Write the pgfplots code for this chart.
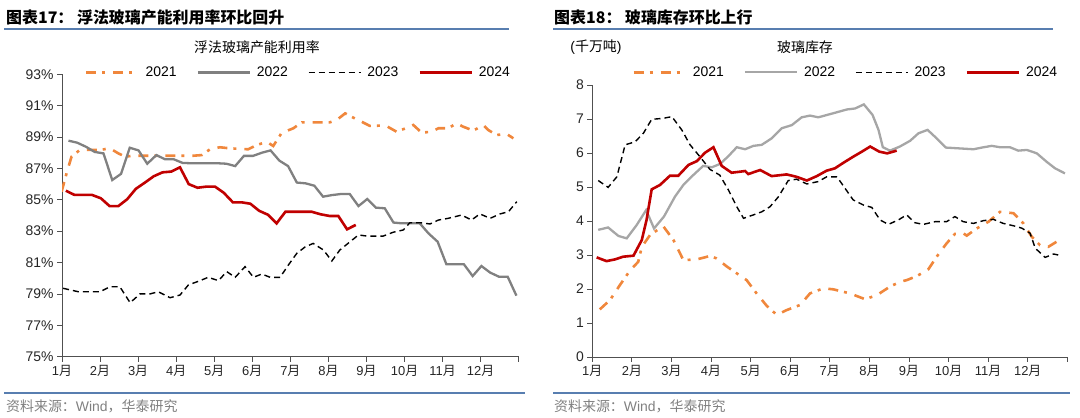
\documentclass[border=0pt]{standalone}
\usepackage{fontspec}
\setmainfont{Liberation Sans}
\newfontfamily\cjk{Noto Sans CJK SC}
\usepackage{pgfplots}
\pgfplotsset{compat=1.18}
\definecolor{orng}{RGB}{240,135,60}
\definecolor{grayL}{RGB}{128,128,128}
\definecolor{grayR}{RGB}{166,166,166}
\definecolor{redd}{RGB}{192,0,0}
\definecolor{hdrblue}{RGB}{88,126,176}
\definecolor{axgray}{RGB}{80,80,80}
\definecolor{srcgray}{RGB}{128,128,128}
\newcommand{\M}[1]{#1{\cjk 月}}
\pgfplotsset{
  myax/.style={
    scale only axis, anchor=south west,
    axis x line*=bottom, axis y line*=left,
    axis line style={-,draw=axgray,line width=0.9bp},
    tick align=outside, major tick length=5bp,
    tick style={draw=axgray,line width=0.8bp},
    xmin=0, xmax=12, xtick={0,1,...,12},
    xticklabels={{\M{1}},{\M{2}},{\M{3}},{\M{4}},{\M{5}},{\M{6}},{\M{7}},{\M{8}},{\M{9}},{\M{10}},{\M{11}},{\M{12}},{}},
    xticklabel style={font=\fontsize{13}{13}\selectfont, text=black!85},
    yticklabel style={font=\fontsize{14}{14}\selectfont, text=black!85},
    legend columns=4,
    legend style={draw=none, fill=none, font=\fontsize{14}{14}\selectfont, inner sep=0pt,
      /tikz/every odd column/.append style={column sep=4bp},
      /tikz/every even column/.append style={column sep=18bp}},
    legend image code/.code={\draw[##1] (0bp,0bp) -- (52bp,0bp);},
    legend entries={2021,2022,2023,2024},
  },
  s21/.style={color=orng, line width=2.6bp, dash pattern=on 10bp off 6bp on 3bp off 8bp},
  s23/.style={color=black, line width=1.4bp, dash pattern=on 6bp off 4bp},
  s24/.style={color=redd, line width=2.6bp},
}
\begin{document}
\begin{tikzpicture}
\path[use as bounding box] (0,0) rectangle (1080bp,418bp);
% headers
\node[anchor=west, inner sep=0pt] at (6bp,401bp) {\fontsize{16}{16}\selectfont\cjk\bfseries 图表17：\ 浮法玻璃产能利用率环比回升};
\node[anchor=west, inner sep=0pt] at (554bp,401bp) {\fontsize{16}{16}\selectfont\cjk\bfseries 图表18：\ 玻璃库存环比上行};
\draw[hdrblue, line width=2bp] (4bp,388.5bp) -- (509bp,388.5bp);
\draw[hdrblue, line width=2bp] (553bp,388.5bp) -- (1053bp,388.5bp);
\node[inner sep=0pt] at (257bp,371bp) {\fontsize{14}{14}\selectfont\cjk 浮法玻璃产能利用率};
\node[inner sep=0pt] at (596bp,371bp) {\fontsize{14}{14}\selectfont (\cjk 千万吨\normalfont)};
\node[inner sep=0pt] at (805bp,371bp) {\fontsize{14}{14}\selectfont\cjk 玻璃库存};
\draw[hdrblue, line width=1.2bp] (4bp,25bp) -- (525bp,25bp);
\draw[hdrblue, line width=1.2bp] (553bp,25bp) -- (1070bp,25bp);
\node[anchor=west, inner sep=0pt, text=srcgray] at (6bp,12bp) {\fontsize{14}{14}\selectfont{\cjk 资料来源：}Wind{\cjk ，华泰研究}};
\node[anchor=west, inner sep=0pt, text=srcgray] at (554bp,12bp) {\fontsize{14}{14}\selectfont{\cjk 资料来源：}Wind{\cjk ，华泰研究}};

% LEFT
\begin{axis}[myax, at={(62bp,61.3bp)}, width=456.7bp, height=282.4bp,
  ymin=75, ymax=93, ytick={75,77,...,93},
  yticklabels={75\%,77\%,79\%,81\%,83\%,85\%,87\%,89\%,91\%,93\%},
  legend style={at={(0.05,1.006)}, anchor=west}]
\addplot[s21] coordinates {
(-0.01,85.52)(0.12,86.69)(0.25,87.75)(0.47,88.18)(0.69,88.18)(1.00,88.18)(1.26,88.28)(1.48,87.96)(1.66,87.75)(1.87,87.81)(2.75,87.81)(3.45,87.81)(3.67,87.85)(3.89,88.22)(4.15,88.35)(4.41,88.28)(4.89,88.22)(5.12,88.49)(5.38,88.70)(5.55,88.43)(5.77,89.26)(6.08,89.56)(6.30,89.94)(6.52,89.94)(6.78,89.94)(7.04,89.94)(7.22,90.09)(7.44,90.51)(7.74,90.13)(7.87,89.98)(8.09,89.71)(8.40,89.73)(8.52,89.71)(8.79,89.34)(9.14,89.66)(9.23,89.77)(9.45,89.28)(9.71,89.34)(9.89,89.56)(10.15,89.56)(10.37,89.88)(10.54,89.66)(10.81,89.41)(11.07,89.77)(11.20,89.45)(11.42,89.13)(11.68,89.20)(11.86,88.92)};
\addplot[color=grayL, line width=2.3bp] coordinates {
(0.17,88.77)(0.40,88.64)(0.63,88.38)(0.86,88.05)(1.09,87.96)(1.32,86.26)(1.55,86.65)(1.78,88.32)(2.01,88.15)(2.24,87.30)(2.48,87.85)(2.71,87.58)(2.94,87.58)(3.17,87.35)(3.40,87.33)(3.63,87.33)(3.86,87.33)(4.09,87.33)(4.32,87.30)(4.55,87.15)(4.78,87.80)(5.02,87.80)(5.25,88.00)(5.48,88.15)(5.71,87.50)(5.94,87.15)(6.17,86.10)(6.40,86.05)(6.63,85.90)(6.86,85.20)(7.09,85.30)(7.33,85.37)(7.56,85.37)(7.79,84.60)(8.02,85.05)(8.25,84.50)(8.48,84.46)(8.71,83.55)(8.94,83.50)(9.17,83.50)(9.40,83.50)(9.63,82.86)(9.87,82.33)(10.10,80.89)(10.33,80.89)(10.56,80.89)(10.79,80.14)(11.02,80.78)(11.25,80.36)(11.48,80.10)(11.71,80.10)(11.94,78.89)};
\addplot[s23] coordinates {
(0.03,79.36)(0.43,79.14)(1.00,79.14)(1.26,79.46)(1.52,79.46)(1.79,78.44)(2.05,79.00)(2.31,79.00)(2.53,79.14)(2.84,78.76)(3.10,78.93)(3.32,79.57)(3.63,79.85)(3.84,80.06)(4.11,79.85)(4.33,80.42)(4.55,80.06)(4.81,80.74)(5.03,80.06)(5.25,80.27)(5.47,80.06)(5.73,80.06)(5.95,80.85)(6.17,81.59)(6.39,82.00)(6.60,82.22)(6.87,81.80)(7.09,81.10)(7.30,81.80)(7.57,82.33)(7.79,82.76)(8.01,82.69)(8.44,82.69)(8.70,82.93)(8.97,83.08)(9.14,83.54)(9.41,83.54)(9.67,83.46)(9.89,83.71)(10.15,83.82)(10.50,84.03)(10.76,83.71)(10.98,84.10)(11.25,83.82)(11.51,84.10)(11.73,84.24)(11.95,84.88)};
\addplot[s24] coordinates {
(0.10,85.58)(0.33,85.31)(0.56,85.31)(0.79,85.31)(1.02,85.10)(1.25,84.60)(1.48,84.60)(1.71,85.03)(1.94,85.70)(2.18,86.10)(2.41,86.50)(2.64,86.75)(2.87,86.80)(3.10,87.07)(3.33,86.00)(3.56,85.77)(3.79,85.84)(4.02,85.84)(4.25,85.45)(4.49,84.84)(4.72,84.84)(4.95,84.75)(5.18,84.30)(5.41,84.05)(5.64,83.50)(5.87,84.24)(6.10,84.24)(6.33,84.24)(6.56,84.24)(6.79,84.08)(7.03,83.97)(7.26,83.97)(7.49,83.12)(7.72,83.40)};
\end{axis}

% RIGHT
\begin{axis}[myax, at={(592.3bp,61bp)}, width=475bp, height=272bp,
  ymin=0, ymax=8, ytick={0,1,...,8},
  yticklabels={0,1,2,3,4,5,6,7,8},
  legend style={at={(0.0836,1.047)}, anchor=west}]
\addplot[s21] coordinates {
(0.19,1.40)(0.45,1.68)(0.70,2.12)(0.95,2.54)(1.16,2.80)(1.25,3.24)(1.46,3.59)(1.79,3.85)(2.05,3.44)(2.30,2.85)(2.64,2.87)(2.97,2.97)(3.14,2.90)(3.40,2.66)(3.90,2.26)(4.15,1.87)(4.41,1.50)(4.66,1.24)(4.91,1.38)(5.25,1.53)(5.50,1.87)(5.84,2.02)(6.09,1.99)(6.51,1.87)(6.89,1.70)(7.19,1.82)(7.52,2.07)(7.77,2.21)(7.94,2.26)(8.20,2.38)(8.49,2.58)(8.70,2.95)(8.95,3.34)(9.16,3.62)(9.37,3.64)(9.46,3.57)(9.71,3.78)(10.01,3.98)(10.30,4.27)(10.64,4.23)(10.89,3.93)(11.10,3.54)(11.31,3.29)(11.52,3.24)(11.73,3.39)};
\addplot[color=grayR, line width=2.3bp] coordinates {
(0.15,3.74)(0.40,3.81)(0.66,3.56)(0.87,3.49)(1.12,3.88)(1.36,4.32)(1.56,3.78)(1.81,4.13)(2.09,4.72)(2.30,5.06)(2.55,5.35)(2.80,5.62)(3.02,5.58)(3.23,5.68)(3.44,5.91)(3.65,6.17)(3.86,6.11)(4.07,6.21)(4.28,6.24)(4.53,6.43)(4.79,6.73)(5.04,6.82)(5.29,7.05)(5.50,7.10)(5.71,7.05)(6.09,7.17)(6.43,7.28)(6.64,7.31)(6.86,7.43)(7.08,7.12)(7.23,6.68)(7.34,6.17)(7.52,6.07)(7.77,6.19)(8.03,6.36)(8.24,6.58)(8.47,6.68)(8.70,6.43)(8.93,6.16)(9.21,6.14)(9.63,6.11)(9.84,6.16)(10.09,6.21)(10.30,6.17)(10.55,6.17)(10.76,6.07)(10.98,6.09)(11.23,5.99)(11.48,5.74)(11.69,5.55)(11.94,5.40)};
\addplot[s23] coordinates {
(0.15,5.19)(0.40,4.99)(0.62,5.30)(0.83,6.24)(1.08,6.33)(1.29,6.58)(1.50,6.99)(1.79,7.02)(2.01,7.07)(2.26,6.68)(2.47,6.24)(2.72,5.89)(2.97,5.52)(3.22,5.35)(3.44,4.91)(3.65,4.42)(3.82,4.08)(4.07,4.18)(4.28,4.27)(4.49,4.42)(4.70,4.71)(4.95,5.19)(5.16,5.23)(5.42,5.09)(5.71,5.16)(5.92,5.30)(6.17,5.30)(6.26,5.17)(6.59,4.62)(6.85,4.47)(7.06,4.40)(7.27,4.03)(7.48,3.90)(7.73,4.03)(7.94,4.18)(8.15,3.95)(8.36,3.90)(8.66,3.98)(8.95,3.98)(9.16,4.13)(9.37,3.98)(9.63,3.93)(9.88,4.01)(10.13,4.05)(10.38,3.93)(10.64,3.86)(10.85,3.79)(11.06,3.64)(11.19,3.20)(11.44,2.93)(11.65,3.03)(11.77,3.00)};
\addplot[s24] coordinates {
(0.11,2.93)(0.36,2.82)(0.57,2.87)(0.78,2.95)(1.04,2.98)(1.25,3.44)(1.37,4.03)(1.50,4.93)(1.71,5.06)(1.96,5.33)(2.17,5.33)(2.43,5.65)(2.64,5.76)(2.85,6.01)(3.06,6.17)(3.27,5.62)(3.52,5.42)(3.73,5.45)(3.86,5.47)(3.94,5.38)(4.24,5.50)(4.53,5.32)(4.91,5.37)(5.16,5.30)(5.42,5.19)(5.67,5.32)(5.92,5.48)(6.13,5.55)(6.34,5.71)(6.59,5.89)(6.81,6.04)(7.02,6.19)(7.25,6.04)(7.45,5.99)(7.69,6.07)};
\end{axis}
\end{tikzpicture}
\end{document}
